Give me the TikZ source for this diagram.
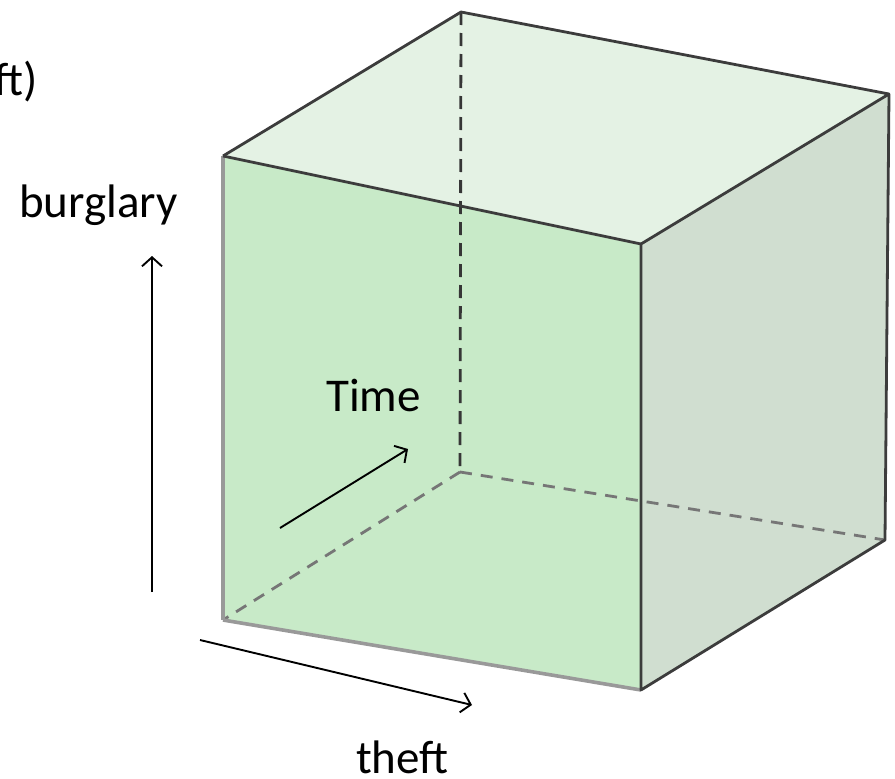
\documentclass[tikz,border=0pt]{standalone}
\usepackage{fontspec}
\setmainfont{Carlito}
\usetikzlibrary{arrows.meta}
\definecolor{frontc}{RGB}{200,234,200}
\definecolor{topc}{RGB}{228,242,228}
\definecolor{rightc}{RGB}{208,222,208}
\definecolor{edgec}{RGB}{60,60,60}
\tikzset{
  edge/.style={draw=edgec, line width=2.8pt, line join=round},
  softedge/.style={draw=gray!80, line width=3.6pt},
  hidden/.style={draw=edgec!90!black, line width=2.8pt, dash pattern=on 13pt off 8pt},
  hiddensoft/.style={draw=edgec!70, line width=2.8pt, dash pattern=on 12pt off 9pt},
  axis/.style={draw=black, line width=1.9pt, -{Straight Barb[length=9pt,width=20pt,line width=1.9pt]}},
  lbl/.style={font=\fontsize{47}{56}\selectfont, inner sep=0pt}
}
\begin{document}
\begin{tikzpicture}[x=1pt,y=-1pt]
\useasboundingbox (0,0) rectangle (895,779);
% cube vertices
\coordinate (A) at (223,156);
\coordinate (B) at (641,244);
\coordinate (C) at (641,690);
\coordinate (D) at (223,620);
\coordinate (E) at (461,12);
\coordinate (F) at (889,94);
\coordinate (G) at (885,540);
\coordinate (H) at (460,472);
% faces
\fill[rightc] (B) -- (F) -- (G) -- (C) -- cycle;
\fill[topc] (A) -- (E) -- (F) -- (B) -- cycle;
\fill[frontc] (A) -- (B) -- (C) -- (D) -- cycle;
% hidden edges
\draw[hidden] (E) -- (H);
\draw[hiddensoft] (H) -- (D);
\draw[hiddensoft] (H) -- (G);
% visible edges
\draw[softedge] (A) -- (D);
\draw[softedge] (D) -- (C);
\draw[edge] (A) -- (E) -- (F) -- (G) -- (C) -- (B) -- (F);
\draw[edge] (A) -- (B);
% axes
\coordinate (v0) at (152,592);
\coordinate (v1) at (152,256);
\coordinate (t0) at (280,528);
\coordinate (t1) at (408,449);
\coordinate (h0) at (200,640);
\coordinate (h1) at (472,705);
\draw[axis] (v0) -- (v1);
\draw[axis] (t0) -- (t1);
\draw[axis] (h0) -- (h1);
% labels
\node[lbl, anchor=base east] (ft) at (38,95) {ft)};
\node[lbl, anchor=base west] (burg) at (19,217) {burglary};
\node[lbl, anchor=base west] (time) at (326,411) {Time};
\node[lbl, anchor=base west] (theft) at (356,773) {theft};
\end{tikzpicture}
\end{document}
